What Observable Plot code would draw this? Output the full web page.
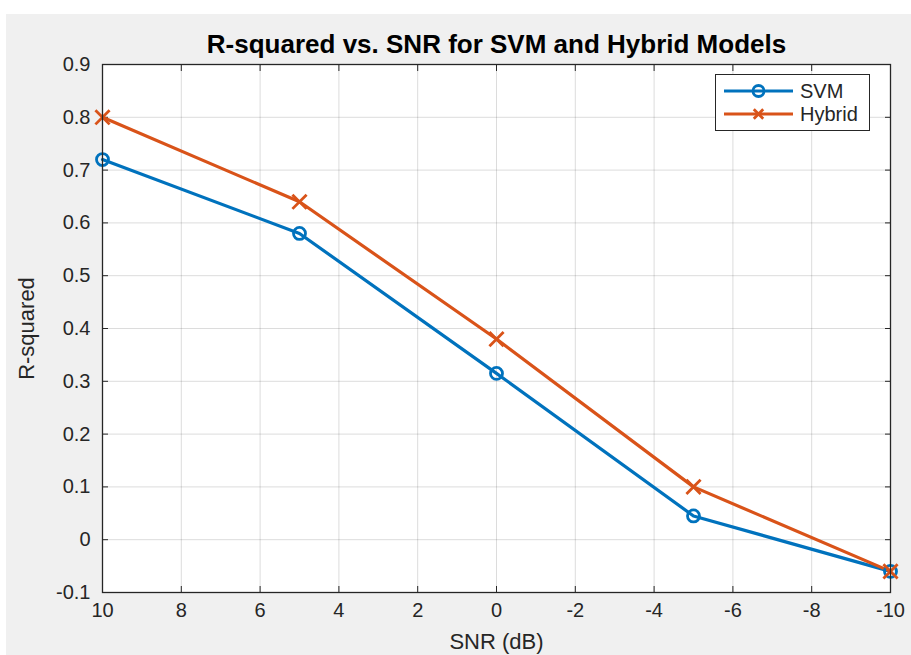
<!DOCTYPE html>
<html><head><meta charset="utf-8">
<script src="https://cdn.jsdelivr.net/npm/d3@7"></script>
<script src="https://cdn.jsdelivr.net/npm/@observablehq/plot@0.6"></script>
<style>
body{margin:0;background:#fff;}
#wrap{position:relative;width:911px;height:655px;overflow:hidden;}
#bg{position:absolute;left:6px;top:14px;right:0;bottom:0;background:#f0f0f0;}
#chart{position:absolute;left:0;top:0;}
#legend{position:absolute;left:715px;top:74px;width:153px;height:55px;border:1px solid #262626;background:#fff;font:20px "Liberation Sans",Arial,sans-serif;color:#262626;}
#legend .row{position:absolute;left:0;height:22px;display:flex;align-items:center;}
#legend .row span{margin-left:5px;}
</style></head><body>
<div id="wrap"><div id="bg"></div><div id="chart"></div><div id="legend"></div></div>
<script>
const snr = [10, 5, 0, -5, -10];
const svm = [0.72, 0.58, 0.315, 0.045, -0.06];
const hybrid = [0.80, 0.64, 0.38, 0.10, -0.06];
const xTicks = [10, 8, 6, 4, 2, 0, -2, -4, -6, -8, -10];
const yTicks = [-0.1, 0, 0.1, 0.2, 0.3, 0.4, 0.5, 0.6, 0.7, 0.8, 0.9];
const seriesNames = ["SVM", "Hybrid"];
const seriesColors = ["#0072BD", "#D95319"];
const titleText = "R-squared vs. SNR for SVM and Hybrid Models";
const xLabel = "SNR (dB)";
const yLabel = "R-squared";

const rows = snr.flatMap((s, i) => [
  {snr: s, r2: svm[i], model: seriesNames[0]},
  {snr: s, r2: hybrid[i], model: seriesNames[1]}
]);
const fmt = d => String(d);
const axisColor = "#262626";

const chart = Plot.plot({
  width: 911,
  height: 655,
  marginLeft: 102,
  marginRight: 21,
  marginTop: 64,
  marginBottom: 63,
  style: {fontFamily: "'Liberation Sans', Arial, sans-serif", fontSize: "20px", color: axisColor, background: "transparent", overflow: "visible"},
  x: {domain: [10, -10], ticks: xTicks, axis: null},
  y: {domain: [-0.1, 0.9], ticks: yTicks, axis: null},
  color: {domain: seriesNames, range: seriesColors},
  marks: [
    Plot.frame({fill: "white", stroke: "none"}),
    Plot.gridX(xTicks, {stroke: axisColor, strokeOpacity: 0.16}),
    Plot.gridY(yTicks, {stroke: axisColor, strokeOpacity: 0.16}),
    // tick labels
    Plot.axisX(xTicks, {anchor: "bottom", tickSize: 0, tickPadding: 10, tickFormat: fmt, label: null, fontSize: 20, fill: axisColor}),
    Plot.axisY(yTicks, {anchor: "left", tickSize: 0, tickPadding: 12, tickFormat: fmt, label: null, fontSize: 20, fill: axisColor}),
    // inward ticks on all sides
    Plot.axisX(xTicks, {anchor: "bottom", tickSize: -6, tickFormat: () => "", label: null, stroke: axisColor}),
    Plot.axisX(xTicks, {anchor: "top", tickSize: -6, tickFormat: () => "", label: null, stroke: axisColor}),
    Plot.axisY(yTicks, {anchor: "left", tickSize: -6, tickFormat: () => "", label: null, stroke: axisColor}),
    Plot.axisY(yTicks, {anchor: "right", tickSize: -6, tickFormat: () => "", label: null, stroke: axisColor}),
    Plot.line(rows, {x: "snr", y: "r2", stroke: "model", z: "model", strokeWidth: 3.2}),
    Plot.dot(rows.filter(d => d.model === seriesNames[0]), {x: "snr", y: "r2", stroke: "model", symbol: "circle", r: 6, strokeWidth: 2.8, fill: "none"}),
    Plot.dot(rows.filter(d => d.model === seriesNames[1]), {x: "snr", y: "r2", stroke: "model", symbol: "times", r: 6.5, strokeWidth: 2.8}),
    Plot.frame({stroke: axisColor, strokeWidth: 1.3}),
    Plot.text([titleText], {frameAnchor: "top", lineAnchor: "middle", dy: -20, fontSize: 26, fontWeight: "bold", fill: "#000"}),
    Plot.text([xLabel], {frameAnchor: "bottom", lineAnchor: "middle", dy: 49, fontSize: 22, fill: axisColor}),
    Plot.text([yLabel], {frameAnchor: "left", textAnchor: "middle", lineAnchor: "middle", dx: -76, rotate: -90, fontSize: 22, fill: axisColor})
  ]
});
document.getElementById("chart").appendChild(chart);

// legend
const legend = document.getElementById("legend");
const symbols = ["circle", "times"];
seriesNames.forEach((name, i) => {
  const row = document.createElement("div");
  row.className = "row";
  row.style.top = (i === 0 ? 5 : 28) + "px";
  row.style.left = "7px";
  const ns = "http://www.w3.org/2000/svg";
  const svg = document.createElementNS(ns, "svg");
  svg.setAttribute("width", 72); svg.setAttribute("height", 22);
  const ln = document.createElementNS(ns, "line");
  ln.setAttribute("x1", 1); ln.setAttribute("x2", 70); ln.setAttribute("y1", 11); ln.setAttribute("y2", 11);
  ln.setAttribute("stroke", seriesColors[i]); ln.setAttribute("stroke-width", 3.2);
  svg.appendChild(ln);
  const p = document.createElementNS(ns, "path");
  const sym = d3.symbol(symbols[i] === "circle" ? d3.symbolCircle : d3.symbolTimes, symbols[i] === "circle" ? Math.PI * 5.5 * 5.5 : 60);
  p.setAttribute("d", sym());
  p.setAttribute("transform", "translate(35.5,11)");
  p.setAttribute("fill", "none");
  p.setAttribute("stroke", seriesColors[i]); p.setAttribute("stroke-width", 2.8);
  svg.appendChild(p);
  row.appendChild(svg);
  const sp = document.createElement("span");
  sp.textContent = name;
  row.appendChild(sp);
  legend.appendChild(row);
});
</script>
</body></html>
